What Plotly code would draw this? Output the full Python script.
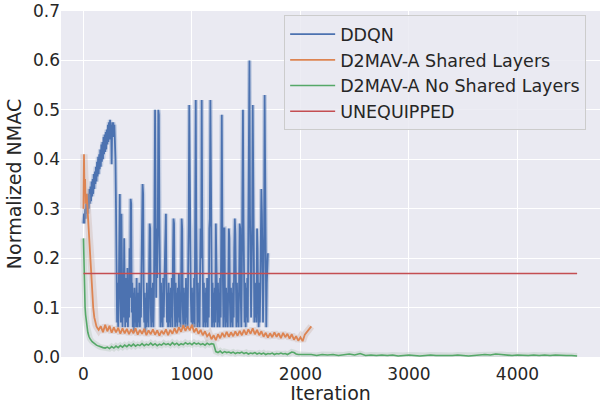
import plotly.graph_objects as go

# ---------------- data ----------------
ddqn_iter = list(range(0, 1701, 5))
ddqn_nmac = [
    # 0 .. 95
    0.27, 0.29, 0.27, 0.30, 0.28, 0.31, 0.29, 0.32, 0.29, 0.33, 0.30, 0.34, 0.31, 0.345, 0.315, 0.355, 0.325, 0.36, 0.33, 0.37,
    # 100 .. 195
    0.34, 0.375, 0.35, 0.385, 0.355, 0.395, 0.365, 0.405, 0.37, 0.41, 0.38, 0.42, 0.385, 0.43, 0.395, 0.435, 0.40, 0.445, 0.41, 0.45,
    # 200 .. 295
    0.415, 0.455, 0.42, 0.46, 0.43, 0.47, 0.435, 0.475, 0.44, 0.48, 0.445, 0.47, 0.39, 0.475, 0.45, 0.475, 0.445, 0.47, 0.44, 0.40,
    # 300 .. 395
    0.30, 0.10, 0.07, 0.15, 0.06, 0.12, 0.22, 0.33, 0.14, 0.07, 0.29, 0.12, 0.06, 0.17, 0.08, 0.24, 0.13, 0.06, 0.16, 0.08,
    # 400 .. 495
    0.07, 0.18, 0.06, 0.14, 0.08, 0.22, 0.12, 0.32, 0.31, 0.09, 0.15, 0.06, 0.13, 0.05, 0.14, 0.07, 0.12, 0.06, 0.16, 0.08,
    # 500 .. 595
    0.06, 0.13, 0.07, 0.15, 0.06, 0.12, 0.08, 0.18, 0.25, 0.35, 0.33, 0.14, 0.07, 0.13, 0.05, 0.12, 0.06, 0.15, 0.07, 0.13,
    # 600 .. 695
    0.06, 0.17, 0.27, 0.26, 0.10, 0.06, 0.14, 0.07, 0.15, 0.06, 0.13, 0.24, 0.50, 0.30, 0.12, 0.26, 0.16, 0.25, 0.50, 0.49,
    # 700 .. 795
    0.28, 0.10, 0.06, 0.15, 0.07, 0.13, 0.06, 0.16, 0.08, 0.14, 0.18, 0.27, 0.29, 0.14, 0.07, 0.13, 0.06, 0.15, 0.07, 0.13,
    # 800 .. 895
    0.06, 0.14, 0.08, 0.16, 0.06, 0.20, 0.28, 0.27, 0.12, 0.06, 0.15, 0.07, 0.13, 0.06, 0.14, 0.08, 0.17, 0.07, 0.13, 0.06,
    # 900 .. 995
    0.15, 0.28, 0.26, 0.10, 0.06, 0.14, 0.07, 0.13, 0.06, 0.16, 0.08, 0.14, 0.06, 0.18, 0.27, 0.51, 0.28, 0.26, 0.12, 0.07,
    # 1000 .. 1095
    0.14, 0.06, 0.13, 0.07, 0.16, 0.06, 0.28, 0.52, 0.27, 0.12, 0.06, 0.15, 0.07, 0.13, 0.06, 0.17, 0.26, 0.20, 0.52, 0.27,
    # 1100 .. 1195
    0.11, 0.06, 0.15, 0.07, 0.13, 0.06, 0.14, 0.07, 0.16, 0.06, 0.13, 0.08, 0.26, 0.28, 0.52, 0.26, 0.12, 0.06, 0.15, 0.07,
    # 1200 .. 1295
    0.13, 0.06, 0.14, 0.07, 0.27, 0.20, 0.11, 0.06, 0.15, 0.07, 0.13, 0.06, 0.16, 0.08, 0.25, 0.49, 0.27, 0.12, 0.06, 0.26,
    # 1300 .. 1395
    0.26, 0.10, 0.06, 0.14, 0.07, 0.13, 0.06, 0.15, 0.26, 0.24, 0.11, 0.06, 0.14, 0.07, 0.13, 0.06, 0.15, 0.08, 0.22, 0.28,
    # 1400 .. 1495
    0.25, 0.11, 0.06, 0.15, 0.07, 0.13, 0.06, 0.16, 0.27, 0.26, 0.12, 0.06, 0.17, 0.27, 0.50, 0.28, 0.12, 0.07, 0.15, 0.06,
    # 1500 .. 1595
    0.14, 0.08, 0.16, 0.07, 0.28, 0.50, 0.60, 0.29, 0.14, 0.08, 0.17, 0.27, 0.51, 0.25, 0.12, 0.07, 0.15, 0.08, 0.14, 0.07,
    # 1600 .. 1695
    0.26, 0.22, 0.11, 0.06, 0.15, 0.07, 0.14, 0.20, 0.34, 0.29, 0.12, 0.07, 0.16, 0.25, 0.53, 0.30, 0.11, 0.06, 0.15, 0.21,
    # 1700
    0.21,
]

shared_iter = [0, 5, 10, 15, 20, 30, 40, 50, 60, 70, 80, 90, 100, 110, 120, 130, 140] + list(range(160, 2101, 20))
shared_nmac = [
    0.30, 0.41, 0.33, 0.36, 0.31, 0.33, 0.29, 0.25, 0.21, 0.17,
    0.13, 0.10, 0.08, 0.068, 0.062, 0.058, 0.055,
    # 160 .. 340
    0.062, 0.050, 0.065, 0.052, 0.063, 0.049, 0.060, 0.050, 0.059, 0.047,
    # 360 .. 540
    0.058, 0.048, 0.057, 0.046, 0.056, 0.048, 0.058, 0.045, 0.055, 0.047,
    # 560 .. 740
    0.057, 0.044, 0.054, 0.046, 0.056, 0.045, 0.054, 0.043, 0.053, 0.046,
    # 760 .. 940
    0.056, 0.044, 0.055, 0.047, 0.058, 0.048, 0.060, 0.051, 0.064, 0.053,
    # 960 .. 1140
    0.062, 0.054, 0.065, 0.050, 0.058, 0.047, 0.055, 0.044, 0.052, 0.042,
    # 1160 .. 1340
    0.047, 0.036, 0.044, 0.034, 0.046, 0.038, 0.049, 0.040, 0.051, 0.041,
    # 1360 .. 1540
    0.050, 0.042, 0.052, 0.043, 0.053, 0.044, 0.055, 0.045, 0.056, 0.047,
    # 1560 .. 1740
    0.058, 0.046, 0.055, 0.044, 0.052, 0.041, 0.049, 0.039, 0.048, 0.040,
    # 1760 .. 1940
    0.050, 0.041, 0.048, 0.038, 0.049, 0.040, 0.047, 0.037, 0.046, 0.035,
    # 1960 .. 2100
    0.042, 0.033, 0.040, 0.032, 0.045, 0.050, 0.057, 0.062,
]

noshared_iter = [0, 3, 6, 10, 15, 20, 30, 40, 50, 60, 80, 100, 120, 140, 160, 180] + list(range(200, 2001, 20)) + list(range(2050, 4551, 50))
noshared_nmac = [
    0.24, 0.20, 0.16, 0.13, 0.10, 0.085, 0.065, 0.050, 0.042, 0.037,
    0.031, 0.027, 0.024, 0.022, 0.020, 0.019,
    # 200 .. 380
    0.018, 0.020, 0.017, 0.021, 0.018, 0.022, 0.019, 0.023, 0.020, 0.024,
    # 400 .. 580
    0.021, 0.025, 0.022, 0.026, 0.022, 0.025, 0.023, 0.027, 0.023, 0.026,
    # 600 .. 780
    0.024, 0.028, 0.024, 0.027, 0.023, 0.026, 0.024, 0.028, 0.025, 0.027,
    # 800 .. 980
    0.024, 0.029, 0.025, 0.028, 0.024, 0.027, 0.025, 0.029, 0.026, 0.028,
    # 1000 .. 1180
    0.025, 0.029, 0.026, 0.028, 0.025, 0.027, 0.024, 0.028, 0.025, 0.027,
    # 1200 .. 1380
    0.026, 0.011, 0.009, 0.012, 0.008, 0.011, 0.009, 0.010, 0.008, 0.010,
    # 1400 .. 1580
    0.007, 0.009, 0.008, 0.010, 0.007, 0.009, 0.006, 0.008, 0.007, 0.009,
    # 1600 .. 1780
    0.006, 0.008, 0.006, 0.008, 0.005, 0.007, 0.006, 0.008, 0.005, 0.007,
    # 1800 .. 1980
    0.006, 0.008, 0.006, 0.007, 0.005, 0.007, 0.010, 0.009, 0.006, 0.005,
    # 2000
    0.005,
    # 2050 .. 4550 step 50
    0.004, 0.005, 0.003, 0.005, 0.004, 0.005, 0.003, 0.004, 0.006, 0.004,
    0.007, 0.003, 0.004, 0.003, 0.004, 0.003, 0.004, 0.002, 0.003, 0.004,
    0.003, 0.002, 0.003, 0.004, 0.003, 0.003, 0.002, 0.003, 0.004, 0.003,
    0.002, 0.003, 0.004, 0.005, 0.004, 0.006, 0.005, 0.004, 0.003, 0.004,
    0.003, 0.003, 0.004, 0.003, 0.004, 0.003, 0.004, 0.003, 0.003, 0.003,
    0.002,
]

unequipped_iter = [0, 4550]
unequipped_nmac = [0.169, 0.169]

series_names = ["DDQN", "D2MAV-A Shared Layers", "D2MAV-A No Shared Layers", "UNEQUIPPED"]
x_ticks = [0, 1000, 2000, 3000, 4000]
y_ticks = [0.0, 0.1, 0.2, 0.3, 0.4, 0.5, 0.6, 0.7]

# ---------------- style ----------------
COLORS = ["#4C72B0", "#DD8452", "#55A868", "#C44E52"]
BANDS = ["rgba(76,114,176,0.25)", "rgba(200,175,165,0.35)", "rgba(175,195,180,0.35)", None]
BAND_W = [4.5, 7, 6, 0]
LINE_W = [1.8, 1.8, 1.6, 1.5]
FONT = "DejaVu Sans"
TXT = "#262626"

data = [
    (ddqn_iter, ddqn_nmac),
    (shared_iter, shared_nmac),
    (noshared_iter, noshared_nmac),
    (unequipped_iter, unequipped_nmac),
]

fig = go.Figure()
for i, (xs, ys) in enumerate(data):
    if BANDS[i]:
        fig.add_trace(go.Scatter(x=xs, y=ys, mode="lines", showlegend=False,
                                 hoverinfo="skip",
                                 line=dict(color=BANDS[i], width=BAND_W[i])))
    fig.add_trace(go.Scatter(x=xs, y=ys, mode="lines", name=series_names[i],
                             line=dict(color=COLORS[i], width=LINE_W[i])))

fig.update_layout(
    width=602, height=404,
    margin=dict(l=61, r=2, t=11, b=47),
    paper_bgcolor="white", plot_bgcolor="#EAEAF2",
    font=dict(family=FONT, color=TXT, size=17),
    legend=dict(x=0.414, y=0.988, xanchor="left", yanchor="top",
                itemwidth=45,
                bgcolor="rgba(234,234,242,0.85)", bordercolor="#CCCCCC",
                borderwidth=1, font=dict(size=17.5, family=FONT, color=TXT)),
    xaxis=dict(range=[-207, 4761], tickvals=x_ticks, showgrid=True,
               gridcolor="white", gridwidth=1.2, zeroline=False, showline=False,
               ticks="", tickfont=dict(size=17), automargin=False,
               ticklabelstandoff=5,
               title=dict(text="Iteration", font=dict(size=19), standoff=0)),
    yaxis=dict(range=[0, 0.70001], tickvals=y_ticks, tickformat=".1f", showgrid=True,
               gridcolor="white", gridwidth=1.2, zeroline=False, showline=False,
               ticks="", tickfont=dict(size=17), automargin=False,
               ticklabeloverflow="allow",
               title=dict(text="Normalized NMAC", font=dict(size=19), standoff=6)),
)

fig.write_html("out.html", config={"displayModeBar": False},
               post_script="document.body.style.margin='0px';")
